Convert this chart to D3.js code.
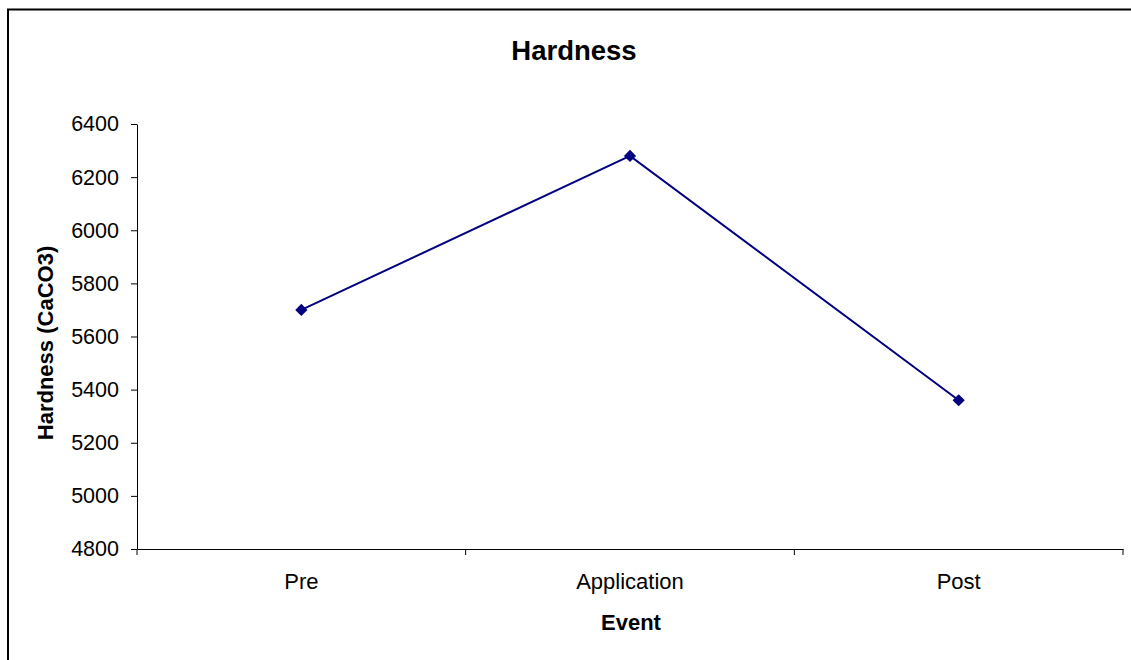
<!DOCTYPE html>
<html><head><meta charset="utf-8">
<script src="https://cdn.jsdelivr.net/npm/d3@7"></script>
<style>body{margin:0;background:#fff;} svg{display:block;font-family:"Liberation Sans",Arial,sans-serif;}</style>
</head><body>
<script>
const categories = ["Pre", "Application", "Post"];
const hardness = [5700, 6280, 5360];
const yTicks = [4800, 5000, 5200, 5400, 5600, 5800, 6000, 6200, 6400];

const W = 1131, H = 660;
const m = {left: 137, right: 1123, top: 124, bottom: 549};
const FF = "Liberation Sans, Arial, sans-serif";
const svg = d3.select("body").append("svg").attr("width", W).attr("height", H);

svg.append("rect").attr("x", 8).attr("y", 9.5).attr("width", 1140).attr("height", 700)
  .attr("fill", "none").attr("stroke", "#000").attr("stroke-width", 2);

const x = d3.scaleBand().domain(categories).range([m.left, m.right]);
const y = d3.scaleLinear().domain([4800, 6400]).range([m.bottom, m.top]);

const yAxis = svg.append("g").attr("transform", `translate(${m.left},0)`)
  .call(d3.axisLeft(y).tickValues(yTicks).tickFormat(d3.format("d")).tickSize(6).tickPadding(12).tickSizeOuter(0));
yAxis.selectAll("text").attr("font-size", 21.5).attr("fill", "#000").attr("font-family", FF);
yAxis.select(".domain").attr("stroke", "#000");
yAxis.selectAll(".tick line").attr("stroke", "#000");

const xAxis = svg.append("g").attr("transform", `translate(0,${m.bottom})`)
  .call(d3.axisBottom(x).tickSize(0).tickPadding(24));
xAxis.selectAll("text").attr("font-size", 22).attr("fill", "#000").attr("font-family", FF);
xAxis.select(".domain").attr("stroke", "#000");
// boundary ticks between categories
const bounds = categories.map(c => x(c)).concat([m.right]);
xAxis.selectAll(".btick").data(bounds).enter().append("line")
  .attr("x1", d => d).attr("x2", d => d).attr("y1", 0).attr("y2", 6).attr("stroke", "#000");

const line = d3.line().x((d, i) => x(categories[i]) + x.bandwidth() / 2).y(d => y(d));
svg.append("path").datum(hardness).attr("d", line).attr("fill", "none")
  .attr("stroke", "#000080").attr("stroke-width", 2);

svg.selectAll(".pt").data(hardness).enter().append("path")
  .attr("d", d3.symbol().type(d3.symbolDiamond2).size(95))
  .attr("transform", (d, i) => `translate(${x(categories[i]) + x.bandwidth() / 2},${y(d)})`)
  .attr("fill", "#000080");

svg.append("text").attr("x", 574).attr("y", 60).attr("text-anchor", "middle")
  .attr("font-size", 27.5).attr("font-weight", "bold").text("Hardness");
svg.append("text").attr("x", 631).attr("y", 630).attr("text-anchor", "middle")
  .attr("font-size", 22).attr("font-weight", "bold").text("Event");
svg.append("text").attr("transform", "translate(53,343) rotate(-90)").attr("text-anchor", "middle")
  .attr("font-size", 22).attr("font-weight", "bold").text("Hardness (CaCO3)");
</script>
</body></html>
